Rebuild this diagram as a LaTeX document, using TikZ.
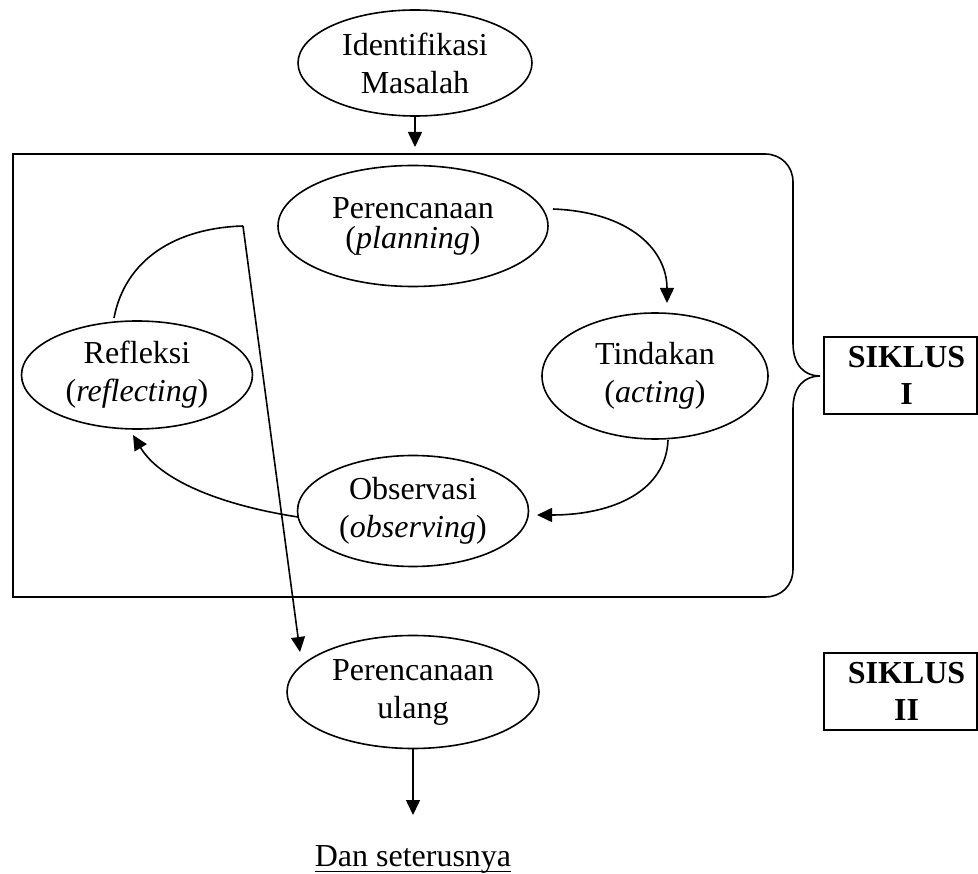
\documentclass[tikz,border=0pt]{standalone}
\usepackage{fontspec}
\setmainfont{Liberation Serif}
\usetikzlibrary{shapes.geometric,arrows.meta}
\begin{document}
\begin{tikzpicture}[x=1pt,y=-1pt,
  every node/.style={font=\fontsize{32pt}{38pt}\selectfont},
  ell/.style={draw,ellipse,line width=1.6pt,inner sep=0pt,align=center},
  line/.style={line width=1.6pt},
  arr/.style={line width=1.6pt,-{Triangle[length=15pt,width=14pt]}},
  sbox/.style={draw,line width=1.6pt,minimum width=153pt,minimum height=77pt,inner sep=0pt},
  stxt/.style={align=center,font=\fontsize{32pt}{37pt}\selectfont\bfseries}]
\useasboundingbox (0,0) rectangle (978,874);

% nodes
\node[ell,minimum width=234pt,minimum height=106pt] (idm) at (415,63) {Identifikasi\\Masalah};
\node[ell,minimum width=270pt,minimum height=121pt] (plan) at (413,226) {Perencanaan\\[-8pt](\textit{planning})};
\node[ell,minimum width=226pt,minimum height=126pt] (act) at (655,376) {Tindakan\\(\textit{acting})};
\node[ell,minimum width=231pt,minimum height=108pt] (refl) at (137,375) {Refleksi\\(\textit{reflecting})};
\node[ell,minimum width=231pt,minimum height=111pt] (obs) at (413,511) {Observasi\\(\textit{observing})};
\node[ell,minimum width=252pt,minimum height=113pt] (ulang) at (413,692) {Perencanaan\\ulang};

\node[sbox] (s1) at (900.5,375.5) {};
\node[stxt] at ([xshift=6pt]s1.center) {SIKLUS\\I};
\node[sbox] (s2) at (900.5,691.5) {};
\node[stxt] at ([xshift=6pt]s2.center) {SIKLUS\\II};

\node[anchor=base,inner sep=0pt] (dan) at (413,866) {Dan seterusnya};
\draw[line width=1.5pt] ([yshift=-5.5pt]dan.base west) -- ([yshift=-5.5pt]dan.base east);

% cycle frame with brace
\draw[line] (13,154) -- (765,154) .. controls (781,154) and (793,166) .. (793,182)
  -- (793,343) .. controls (793,366) and (805,376) .. (820,376)
  .. controls (805,376) and (793,386) .. (793,409)
  -- (793,569) .. controls (793,586) and (781,597) .. (765,597)
  -- (13,597) -- cycle;

% connector end points
\coordinate (boxtop) at (415,147);
\coordinate (p1) at (553,209);
\coordinate (p2) at (667,303);
\coordinate (a1) at (668,440);
\coordinate (a2) at (537,515);
\coordinate (o1) at (298,517);
\coordinate (o2) at (133,435);
\coordinate (r1) at (114,318);
\coordinate (r2) at (243,226);
\coordinate (r3) at (300,652);
\coordinate (u2) at (413,815);

% connectors
\draw[arr] (idm.south) -- (boxtop);
\draw[arr] (p1) .. controls (630,212) and (667,250) .. (p2);
\draw[arr] (a1) .. controls (666,490) and (615,515) .. (a2);
\draw[arr] (o1) .. controls (220,505) and (160,480) .. (o2);
\draw[line] (r1) .. controls (125,260) and (175,228) .. (r2);
\draw[arr] (r2) -- (r3);
\draw[arr] (ulang.south) -- (u2);
\end{tikzpicture}
\end{document}
